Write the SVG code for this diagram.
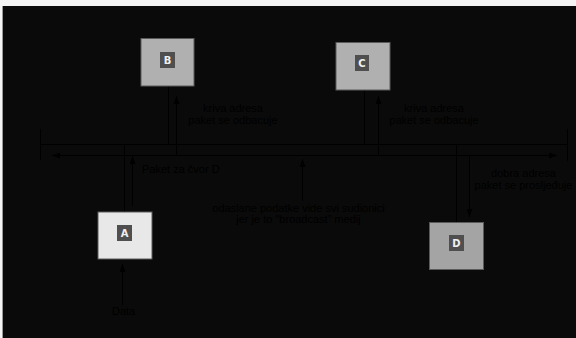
<svg xmlns="http://www.w3.org/2000/svg" width="576" height="338" viewBox="0 0 576 338">
  <style>
    .node { stroke: #5a5a5a; stroke-width: 1; }
    .tag { fill: #4f4f4f; }
    .tagtxt { font-family: "DejaVu Sans", "Liberation Sans", sans-serif; font-size: 10px; font-weight: bold; fill: #f0f0f0; text-anchor: middle; }
    .lbl { font-family: "Liberation Sans", Arial, sans-serif; font-size: 11px; fill: #000; }
    .mid { text-anchor: middle; }
    .wire { stroke: #000; stroke-width: 1; fill: none; }
    .arr { stroke: #000; stroke-width: 1; fill: none; marker-end: url(#head); }
  </style>
  <defs>
    <marker id="head" viewBox="0 0 8 6" refX="8" refY="3" markerWidth="8" markerHeight="6" markerUnits="userSpaceOnUse" orient="auto">
      <path d="M0,0 L8,3 L0,6 Z" fill="#000"/>
    </marker>
  </defs>

  <!-- canvas -->
  <rect x="0" y="0" width="576" height="338" fill="#f4f4f4"/>
  <rect x="2" y="6" width="1" height="332" fill="#9a9a9a"/>
  <rect x="3" y="6" width="573" height="332" fill="#0a0a0a"/>

  <!-- shared medium and connectors -->
  <g id="connectors">
    <!-- bus -->
    <line class="wire" x1="40" y1="144.5" x2="568" y2="144.5"/>
    <line class="wire" x1="40.5" y1="129" x2="40.5" y2="160"/>
    <line class="wire" x1="567.5" y1="129" x2="567.5" y2="161"/>
    <!-- signal along the bus, both directions -->
    <line class="arr" x1="300" y1="155.5" x2="52" y2="155.5"/>
    <line class="arr" x1="300" y1="155.5" x2="557" y2="155.5"/>
    <!-- station taps -->
    <line class="wire" x1="168.5" y1="86" x2="168.5" y2="144"/>
    <line class="wire" x1="364.5" y1="90" x2="364.5" y2="144"/>
    <line class="wire" x1="124.5" y1="144" x2="124.5" y2="212"/>
    <line class="wire" x1="456.5" y1="144" x2="456.5" y2="222"/>
    <!-- packet flows -->
    <line class="arr" x1="176.5" y1="156" x2="176.5" y2="96"/>
    <line class="arr" x1="378.5" y1="156" x2="378.5" y2="96"/>
    <line class="arr" x1="132.5" y1="206" x2="132.5" y2="156"/>
    <line class="arr" x1="469.5" y1="156" x2="469.5" y2="217"/>
    <line class="arr" x1="302.5" y1="201" x2="302.5" y2="159"/>
    <line class="arr" x1="122.5" y1="305" x2="122.5" y2="264"/>
  </g>

  <!-- labels -->
  <g id="labels">
    <text class="lbl mid" x="233" y="112">kriva adresa</text>
    <text class="lbl mid" x="233" y="124">paket se odbacuje</text>
    <text class="lbl mid" x="434" y="112">kriva adresa</text>
    <text class="lbl mid" x="434" y="124">paket se odbacuje</text>
    <text class="lbl" x="142" y="173">Paket za čvor D</text>
    <text class="lbl mid" x="298.5" y="212">odaslane podatke vide svi sudionici</text>
    <text class="lbl mid" x="298.5" y="223">jer je to "broadcast” medij</text>
    <text class="lbl mid" x="523.5" y="177">dobra adresa</text>
    <text class="lbl mid" x="523.5" y="189">paket se prosljeđuje</text>
    <text class="lbl" x="112" y="315">Data</text>
  </g>

  <g id="node-A">
    <rect class="node" x="98" y="212" width="54" height="47" fill="#e8e8e8"/>
    <rect class="tag" x="117" y="225" width="15" height="16"/>
    <text class="tagtxt" x="124.5" y="237">A</text>
  </g>
  <g id="node-B">
    <rect class="node" x="141" y="38.5" width="53" height="47.5" fill="#b0b0b0"/>
    <rect class="tag" x="160" y="52" width="15" height="16"/>
    <text class="tagtxt" x="167.5" y="64">B</text>
  </g>
  <g id="node-C">
    <rect class="node" x="336" y="42.5" width="54" height="47.5" fill="#b0b0b0"/>
    <rect class="tag" x="355" y="55" width="14" height="16"/>
    <text class="tagtxt" x="362" y="67">C</text>
  </g>
  <g id="node-D">
    <rect class="node" x="429.5" y="222.5" width="54" height="47" fill="#a4a4a4"/>
    <rect class="tag" x="449" y="235" width="15" height="16"/>
    <text class="tagtxt" x="456.5" y="247">D</text>
  </g>
</svg>
